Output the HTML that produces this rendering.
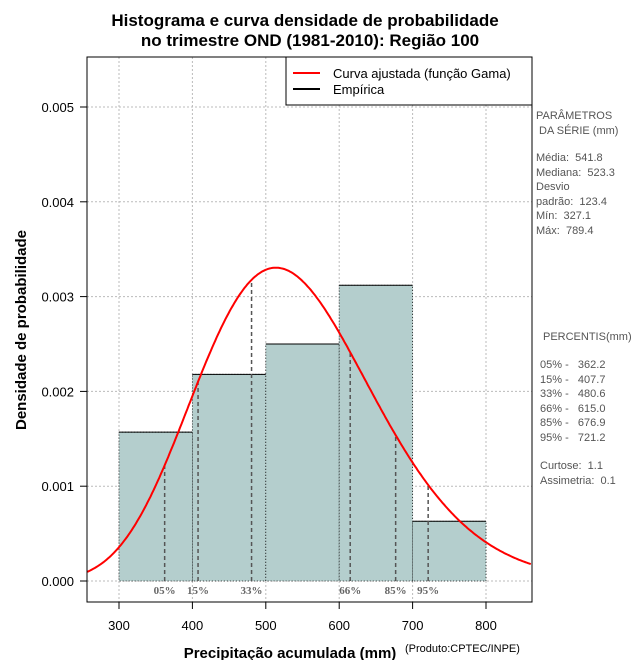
<!DOCTYPE html>
<html><head><meta charset="utf-8"><style>
body{margin:0;background:#fff;}
svg{display:block;font-family:"Liberation Sans",sans-serif;}
text{white-space:pre;}
</style></head><body>
<svg id="c" width="640" height="660" xmlns="http://www.w3.org/2000/svg">
<text x="305" y="26" text-anchor="middle" font-size="17" font-weight="bold">Histograma e curva densidade de probabilidade</text>
<text x="310" y="46" text-anchor="middle" font-size="17" font-weight="bold">no trimestre OND (1981-2010): Região 100</text>
<g id="grid"></g>
<g id="bars"></g>
<g id="pct"></g>
<path id="curve" fill="none" stroke="#ff0000" stroke-width="2"/>
<rect x="87" y="57" width="445" height="545" fill="none" stroke="#000"/>
<g id="axes"></g>
<g>
<rect x="286" y="57" width="246" height="48" fill="#fff" stroke="#000"/>
<line x1="293" y1="73" x2="320" y2="73" stroke="#ff0000" stroke-width="2"/>
<text x="333" y="78" font-size="13">Curva ajustada (função Gama)</text>
<line x1="293" y1="89" x2="320" y2="89" stroke="#000" stroke-width="2"/>
<text x="333" y="94" font-size="13">Empírica</text>
</g>
<g font-size="11" fill="#555">
<text x="536" y="119">PARÂMETROS</text><text x="539" y="134">DA SÉRIE (mm)</text>
<text x="536" y="161">Média:  541.8</text><text x="536" y="176">Mediana:  523.3</text>
<text x="536" y="190">Desvio</text><text x="536" y="205">padrão:  123.4</text>
<text x="536" y="219">Mín:  327.1</text><text x="536" y="234">Máx:  789.4</text>
<text x="543" y="340">PERCENTIS(mm)</text>
<text x="540" y="368">05% -   362.2</text><text x="540" y="383">15% -   407.7</text>
<text x="540" y="397">33% -   480.6</text><text x="540" y="412">66% -   615.0</text>
<text x="540" y="426">85% -   676.9</text><text x="540" y="441">95% -   721.2</text>
<text x="540" y="469">Curtose:  1.1</text><text x="540" y="484">Assimetria:  0.1</text>
</g>
<text x="290" y="658" text-anchor="middle" font-size="15" font-weight="bold">Precipitação acumulada (mm)</text>
<text x="405" y="652" font-size="11">(Produto:CPTEC/INPE)</text>
<text transform="translate(26,330) rotate(-90)" text-anchor="middle" font-size="15" font-weight="bold">Densidade de probabilidade</text>
</svg>
<script>
const binStarts=[300,400,500,600,700];
const binWidth=100;
const densities=[0.00157,0.00218,0.0025,0.00312,0.00063];
const xTicks=[300,400,500,600,700,800];
const yTicks=[0,0.001,0.002,0.003,0.004,0.005];
const pctNames=["05%","15%","33%","66%","85%","95%"];
const pctValues=[362.2,407.7,480.6,615.0,676.9,721.2];
const meanVal=541.8, sdVal=123.4;
const NS="http://www.w3.org/2000/svg";
const X=v=>119+(v-300)*0.734;
const Y=v=>581-v*94800;
function mk(t,a,p){const e=document.createElementNS(NS,t);for(const k in a)e.setAttribute(k,a[k]);p.appendChild(e);return e;}
const k=(meanVal/sdVal)**2, th=sdVal*sdVal/meanVal;
function lgamma(z){const g=7,c=[0.99999999999980993,676.5203681218851,-1259.1392167224028,771.32342877765313,-176.61502916214059,12.507343278686905,-0.13857109526572012,9.9843695780195716e-6,1.5056327351493116e-7];z-=1;let x=c[0];for(let i=1;i<9;i++)x+=c[i]/(z+i);const t=z+g+0.5;return 0.5*Math.log(2*Math.PI)+(z+0.5)*Math.log(t)-t+Math.log(x);}
const lg=lgamma(k);
const pdf=x=>Math.exp((k-1)*Math.log(x)-x/th-lg-k*Math.log(th));
const grid=document.getElementById('grid'),bars=document.getElementById('bars'),pct=document.getElementById('pct'),axes=document.getElementById('axes');
xTicks.forEach(t=>{const l=mk('line',{x1:X(t),x2:X(t),y1:57,y2:602,stroke:'#bbb','stroke-dasharray':'2,2'},grid);

const m=mk('line',{x1:X(t),x2:X(t),y1:602,y2:609,stroke:'#000'},axes);
const tx=mk('text',{x:X(t),y:630,'text-anchor':'middle','font-size':13},axes);tx.textContent=t;
});
yTicks.forEach(t=>{const l=mk('line',{x1:87,x2:532,y1:Y(t),y2:Y(t),stroke:'#bbb','stroke-dasharray':'2,2'},grid);

mk('line',{x1:80,x2:87,y1:Y(t),y2:Y(t),stroke:'#000'},axes);
const tx=mk('text',{x:74,y:Y(t)+5,'text-anchor':'end','font-size':13},axes);tx.textContent=t.toFixed(3);
});
binStarts.forEach((b,i)=>{const r=mk('rect',{x:X(b),y:Y(densities[i]),width:X(b+binWidth)-X(b),height:Y(0)-Y(densities[i]),fill:'#b4cecd',stroke:'#000','stroke-width':0.8,'stroke-dasharray':'1,2'},bars);

mk('line',{x1:X(b),x2:X(b+binWidth),y1:Y(densities[i]),y2:Y(densities[i]),stroke:'#000'},bars);});
pctValues.forEach((v,i)=>{const l=mk('line',{x1:X(v),x2:X(v),y1:Y(0),y2:Y(pdf(v)),stroke:'#555','stroke-width':1.5,'stroke-dasharray':'4,3'},pct);

const t=mk('text',{x:X(v),y:594,'text-anchor':'middle','font-size':11,'font-weight':'bold',fill:'#666','font-family':'Liberation Serif, serif'},pct);t.textContent=pctNames[i];
});
let d='';for(let v=257;v<=862;v+=2){const y=Y(pdf(v));d+=(d?'L':'M')+X(v).toFixed(1)+','+y.toFixed(1);}
const cv=document.getElementById('curve');cv.setAttribute('d',d);
cv.setAttribute('clip-path','url(#clp)');
const defs=mk('defs',{},document.getElementById('c'));const cp=mk('clipPath',{id:'clp'},defs);mk('rect',{x:87,y:57,width:445,height:545},cp);
</script>
</body></html>
